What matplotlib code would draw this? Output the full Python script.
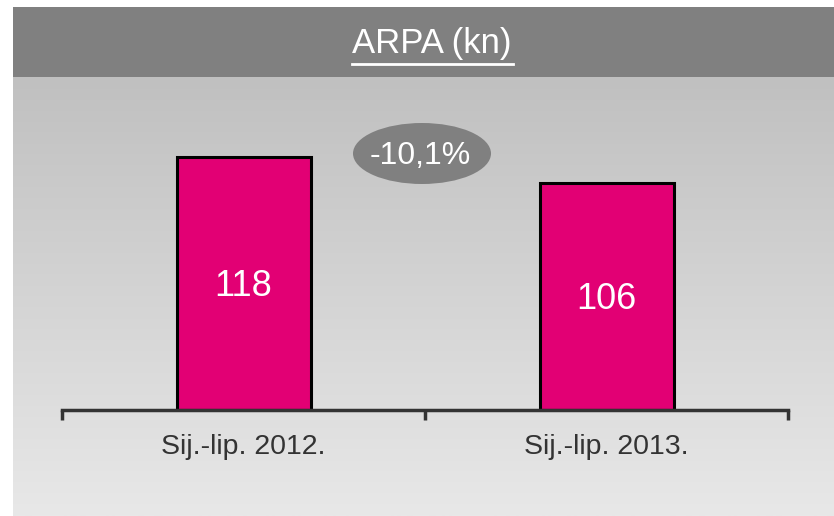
import matplotlib
matplotlib.use("Agg")
import matplotlib.pyplot as plt
import numpy as np
from matplotlib.patches import Rectangle, Ellipse
from matplotlib.lines import Line2D

plt.rcParams['font.family'] = ['Liberation Sans', 'DejaVu Sans']

categories = ["Sij.-lip. 2012.", "Sij.-lip. 2013."]
values = [118, 106]
title = "ARPA (kn)"
change_label = "-10,1%"

W, H = 834, 516
fig = plt.figure(figsize=(W / 100, H / 100), dpi=100)
fig.patch.set_facecolor("white")

def fx(px):
    return px / W

def fy(py):
    return 1 - py / H

# gradient background panel
bg = fig.add_axes([fx(13), 0, 1 - fx(13), fy(77)])
grad = np.linspace(192, 232, 256).reshape(-1, 1) / 255.0
bg.imshow(np.dstack([grad, grad, grad]), aspect="auto", extent=[0, 1, 0, 1], origin="upper")
bg.set_axis_off()

# header band
fig.add_artist(Rectangle((fx(13), fy(77)), 1 - fx(13), fy(7) - fy(77),
                         transform=fig.transFigure, facecolor="#808080", edgecolor="none"))
fig.text(fx(432), fy(44), title, color="white", fontsize=25, ha="center", va="center")
fig.add_artist(Line2D([fx(352), fx(513)], [fy(63.5), fy(63.5)], transform=fig.transFigure,
                      color="white", linewidth=2))

# main axes
ymax = 150
px_per_unit = (410 - 157) / 118
top_px = 410 - ymax * px_per_unit
ax = fig.add_axes([fx(62), fy(410), fx(788) - fx(62), fy(top_px) - fy(410)])
ax.patch.set_alpha(0)
x = np.arange(len(categories))
bars = ax.bar(x, values, width=134 / 363, color="#E20074", edgecolor="black", linewidth=2.2)
ax.set_xlim(-0.5, len(categories) - 0.5)
ax.set_ylim(0, ymax)
for b, v in zip(bars, values):
    ax.annotate(str(v), (b.get_x() + b.get_width() / 2, v / 2), xytext=(0, -2.5),
                textcoords="offset points", color="white",
                fontsize=26, ha="center", va="center")

for s in ["top", "right", "left"]:
    ax.spines[s].set_visible(False)
ax.spines["bottom"].set_color("#333333")
ax.spines["bottom"].set_linewidth(2.5)
ax.set_yticks([])
ax.set_xticks(np.arange(-0.5, len(categories)), labels=[""] * (len(categories) + 1))
ax.tick_params(axis="x", which="major", length=7, width=2.5, color="#333333", direction="out")
ax.set_xticks(x, minor=True)
ax.set_xticklabels(categories, minor=True)
ax.tick_params(axis="x", which="minor", length=0, pad=17, labelsize=20.5, labelcolor="#333333")

# change ellipse
fig.add_artist(Ellipse((fx(422), fy(153.5)), fx(138), 61 / H, transform=fig.transFigure,
                       facecolor="#808080", edgecolor="none"))
fig.text(fx(420), fy(156), change_label, color="white", fontsize=23, ha="center", va="center")

fig.savefig("out.png", dpi=100)
